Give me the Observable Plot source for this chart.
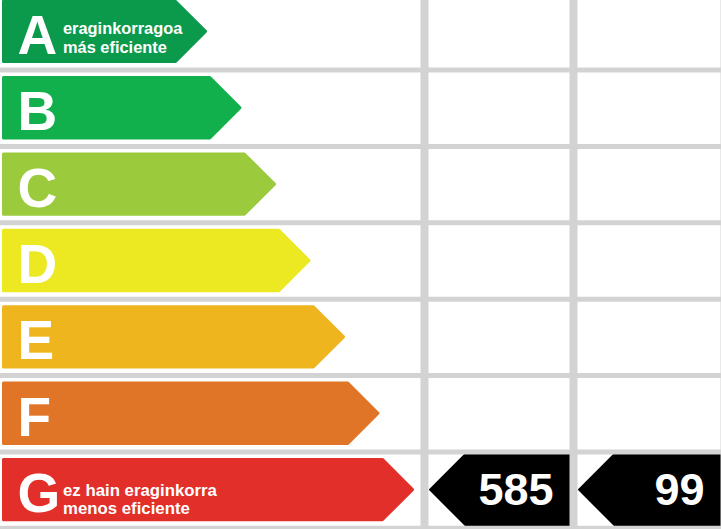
<!DOCTYPE html>
<html>
<head>
<meta charset="utf-8">
<script src="https://cdn.jsdelivr.net/npm/d3@7"></script>
<script src="https://cdn.jsdelivr.net/npm/@observablehq/plot@0.6"></script>
<style>
  html, body { margin: 0; padding: 0; background: #fff; overflow: hidden; }
  #chart svg { display: block; }
</style>
</head>
<body>
<div id="chart"></div>
<script>
// ---- data ----
const classes = ["A", "B", "C", "D", "E", "F", "G"];
const classColors = ["#0b9a4c", "#11b04d", "#9bca3d", "#ece822", "#eeb51f", "#e07527", "#e22f2a"];
const noteClasses = ["A", "G"];
const noteLines = [["eraginkorragoa", "más eficiente"], ["ez hain eraginkorra", "menos eficiente"]];
const valueColumns = [1, 2];
const valueClasses = ["G", "G"];
const values = [585, 99];

// ---- layout ----
const W = 721, H = 529;
const rowPx = (527.8 + 6.8) / classes.length;
const inset = 1.5;                       // stroke rounding compensation
const rowPad = (6.5 + inset) / rowPx;
const arrowLeft = 2 + inset;
const tip0 = 207 - inset, tipStep = 34.5;
const head = rowPx * (0.5 - rowPad);
const colEdges = [0, 424, 573, 724];
const gridColor = "#d3d3d3";
// per-note text layout: [baseline offsets of the two lines from row centre], font size
const noteLayout = {A: {dy: [1.9, 21.3], size: 16.4}, G: {dy: [5.4, 23.4], size: 16.8}};

const arrows = classes.flatMap((c, i) => {
  const tip = tip0 + tipStep * i;
  return [
    {c, y: i + rowPad, x1: arrowLeft, x2: tip - head},
    {c, y: i + 0.5, x1: arrowLeft, x2: tip},
    {c, y: i + 1 - rowPad, x1: arrowLeft, x2: tip - head}
  ];
});

const valueArrows = values.flatMap((v, k) => {
  const i = classes.indexOf(valueClasses[k]);
  const col = valueColumns[k];
  const tip = colEdges[col] + 6;
  const right = colEdges[col + 1];
  return [
    {k, y: i, x1: tip + rowPx / 2, x2: right},
    {k, y: i + 0.5, x1: tip, x2: right},
    {k, y: i + 1, x1: tip + rowPx / 2, x2: right}
  ];
});

const valueLabels = values.map((v, k) => ({
  v, y: classes.indexOf(valueClasses[k]) + 0.5,
  x: colEdges[valueColumns[k] + 1] - 4 - 16
}));

const letters = classes.map((c, i) => ({c, y: i + 0.5}));
const noteTexts = noteClasses.flatMap((c, k) =>
  noteLines[k].map((t, j) => ({
    c, t, y: classes.indexOf(c) + 0.5,
    dy: noteLayout[c].dy[j], size: noteLayout[c].size
  }))
);

const chart = Plot.plot({
  width: W,
  height: H,
  margin: 0,
  style: {background: "#fff", fontFamily: "'Liberation Sans', Arial, sans-serif"},
  x: {domain: [0, W], range: [0, W], axis: null},
  y: {domain: [0, classes.length], range: [-6.8, 527.8], axis: null},
  color: {domain: classes, range: classColors, type: "categorical"},
  marks: [
    Plot.areaX(arrows, {
      y: "y", x1: "x1", x2: "x2", z: "c", fill: "c", stroke: "c",
      strokeWidth: inset * 2, strokeLinejoin: "round", curve: "linear"
    }),
    Plot.areaX(valueArrows, {
      y: "y", x1: "x1", x2: "x2", z: "k", fill: "#000", stroke: "#000",
      strokeWidth: 2, strokeLinejoin: "round", curve: "linear"
    }),
    Plot.ruleY(d3.range(0, classes.length + 1), {y: d => d, stroke: gridColor, strokeWidth: 5}),
    Plot.ruleX(colEdges.slice(1), {x: d => d, stroke: gridColor, strokeWidth: 8}),
    Plot.text(letters, {
      x: 17, y: "y", text: "c", dy: 22, lineAnchor: "bottom", textAnchor: "start",
      fill: "#fff", fontSize: 55, fontWeight: "bold"
    }),
    ...noteTexts.map(n => Plot.text([n], {
      x: 62.5, y: "y", text: "t", dy: n.dy, lineAnchor: "bottom", textAnchor: "start",
      fill: "#fff", fontSize: n.size, fontWeight: "bold"
    })),
    Plot.text(valueLabels, {
      x: "x", y: "y", text: d => String(d.v), dy: 14.5, lineAnchor: "bottom", textAnchor: "end",
      fill: "#fff", fontSize: 45, fontWeight: "bold"
    })
  ]
});

document.getElementById("chart").appendChild(chart);
</script>
</body>
</html>
